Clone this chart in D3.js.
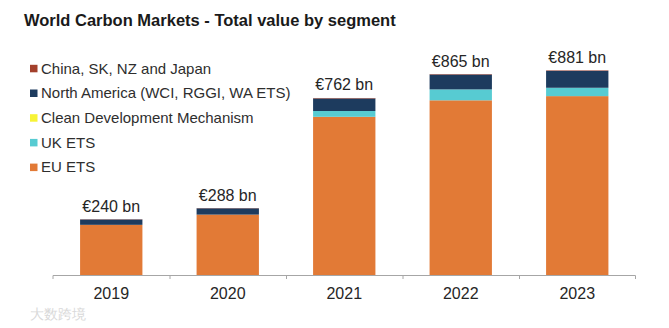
<!DOCTYPE html>
<meta charset="utf-8">
<style>
body { margin: 0; background: #fff; }
text { font-family: Arial, "Liberation Sans", sans-serif; fill: #262626; }
.title { font-weight: bold; font-size: 16.5px; fill: #1a1a1a; }
.legend text { font-size: 15px; fill: #2e2e2e; }
.val { font-size: 16px; }
.axis text { font-size: 16px; fill: #262626; }
.axis path, .axis line { stroke: #a6a6a6; }
</style>
<svg width="669" height="328"></svg>
<script src="https://d3js.org/d3.v7.min.js"></script>
<script>

var years = ["2019", "2020", "2021", "2022", "2023"];
var segments = ["EU ETS", "UK ETS", "Clean Development Mechanism", "North America (WCI, RGGI, WA ETS)", "China, SK, NZ and Japan"];
var euEts = [216, 260, 681, 752, 770];
var ukEts = [0, 0, 25, 47, 36];
var cdm = [0, 0, 0, 0, 0];
var northAmerica = [23, 27, 54, 64, 73];
var asiaPacific = [1, 1, 2, 2, 2];
var totals = [240, 288, 762, 865, 881];

var colors = ["#e27a36", "#57cbd2", "#f7f336", "#1d3b5e", "#a3402c"];

var svg = d3.select("svg");

var rows = years.map(function(y, i) {
  return {
    year: y,
    "EU ETS": euEts[i],
    "UK ETS": ukEts[i],
    "Clean Development Mechanism": cdm[i],
    "North America (WCI, RGGI, WA ETS)": northAmerica[i],
    "China, SK, NZ and Japan": asiaPacific[i],
    total: totals[i]
  };
});

var x = d3.scaleBand()
    .domain(years)
    .range([53, 635.5])
    .paddingInner(0)
    .paddingOuter(0);

var y = d3.scaleLinear()
    .domain([0, 1000])
    .range([275, 42.7]);

var color = d3.scaleOrdinal().domain(segments).range(colors);

var stack = d3.stack().keys(segments)(rows);

var barW = x.bandwidth() * 0.535;

svg.append("g")
  .selectAll("g")
  .data(stack)
  .enter().append("g")
    .attr("fill", function(d) { return color(d.key); })
  .selectAll("rect")
  .data(function(d) { return d; })
  .enter().append("rect")
    .attr("x", function(d) { return x(d.data.year) + (x.bandwidth() - barW) / 2; })
    .attr("width", barW)
    .attr("y", function(d) { return y(d[1]); })
    .attr("height", function(d) { return y(d[0]) - y(d[1]); });

// total labels
svg.append("g")
  .selectAll("text")
  .data(rows)
  .enter().append("text")
    .attr("class", "val")
    .attr("text-anchor", "middle")
    .attr("x", function(d) { return x(d.year) + x.bandwidth() / 2; })
    .attr("y", function(d) { return y(d.total) - 7.5; })
    .text(function(d) { return "€" + d.total + " bn"; });

// x axis with ticks at band edges
var axis = svg.append("g")
    .attr("class", "axis")
    .attr("transform", "translate(0,275)");

axis.append("path")
    .attr("d", "M" + x.range()[0] + ",4V0.5H" + x.range()[1] + "V4")
    .attr("fill", "none");

axis.selectAll("line")
  .data(years.slice(1))
  .enter().append("line")
    .attr("x1", function(d) { return x(d) + 0.5; })
    .attr("x2", function(d) { return x(d) + 0.5; })
    .attr("y1", 0)
    .attr("y2", 4);

axis.selectAll("text")
  .data(years)
  .enter().append("text")
    .attr("text-anchor", "middle")
    .attr("x", function(d) { return x(d) + x.bandwidth() / 2; })
    .attr("y", 24)
    .text(function(d) { return d; });

// title
svg.append("text")
    .attr("class", "title")
    .attr("x", 24)
    .attr("y", 25.5)
    .text("World Carbon Markets - Total value by segment");

// legend (top to bottom reversed)
var legend = svg.append("g")
    .attr("class", "legend")
  .selectAll("g")
  .data(segments.slice().reverse())
  .enter().append("g")
    .attr("transform", function(d, i) { return "translate(30," + (68.3 + i * 24.7) + ")"; });

legend.append("rect")
    .attr("x", 0)
    .attr("y", -3.5)
    .attr("width", 7.5)
    .attr("height", 7.5)
    .attr("fill", function(d) { return color(d); });

legend.append("text")
    .attr("x", 11)
    .attr("y", 5.3)
    .text(function(d) { return d; });

// watermark
svg.append("text")
    .attr("x", 30)
    .attr("y", 319)
    .attr("font-size", 14)
    .style("fill", "#d9d9d9")
    .text("大数跨境");

</script>
